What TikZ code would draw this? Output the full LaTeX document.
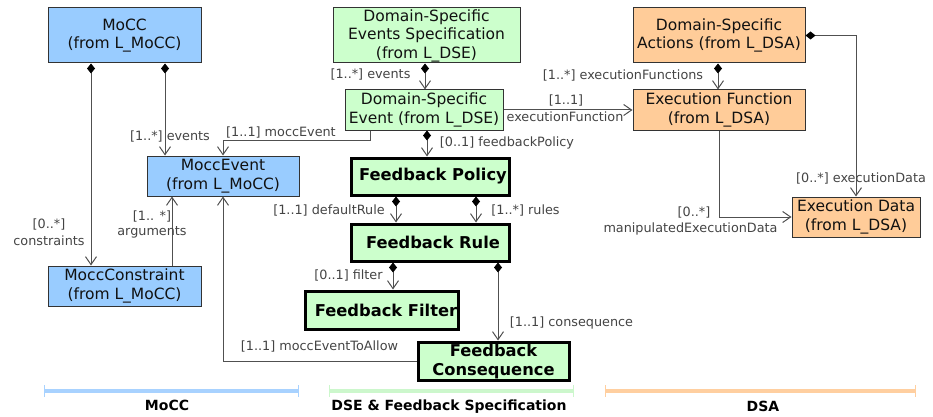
\documentclass[tikz,border=0pt]{standalone}
\usepackage{fontspec}
\setmainfont{DejaVu Sans}
\usetikzlibrary{arrows.meta}

\definecolor{moccblue}{HTML}{99CCFF}
\definecolor{dsegreen}{HTML}{CCFFCC}
\definecolor{dsaorange}{HTML}{FFCC99}
\definecolor{barblue}{HTML}{A8D2FF}
\definecolor{bargreen}{HTML}{CCF7CC}
\definecolor{barorange}{HTML}{FFCFA0}
\definecolor{linegray}{HTML}{505050}
\definecolor{boxedge}{HTML}{333333}
\definecolor{textdark}{HTML}{111111}
\definecolor{labelgray}{HTML}{444444}

\newcommand{\boxfont}{\fontsize{15.5}{18.5}\selectfont}
\newcommand{\fbfont}{\fontsize{16.3}{19}\selectfont\bfseries}
\newcommand{\lblfont}{\fontsize{12.8}{15}\selectfont}
\newcommand{\areafont}{\fontsize{14}{16}\selectfont\bfseries}

\tikzset{
  conn/.style={draw=linegray, line width=1pt},
  comp/.style={conn, {Diamond[length=10pt,width=8pt,color=black,fill=black]}-{Straight Barb[length=8pt,width=11pt]}},
  assoc/.style={conn, -{Straight Barb[length=8pt,width=11pt]}},
  plainbox/.style={draw=boxedge, line width=1pt, text=textdark, align=center, font=\boxfont, inner sep=1pt},
  bluebox/.style={plainbox, fill=moccblue},
  greenbox/.style={plainbox, fill=dsegreen},
  orangebox/.style={plainbox, fill=dsaorange},
  fbbox/.style={draw=black, line width=3pt, fill=dsegreen, text=black, align=center, font=\fbfont, inner sep=1pt},
  lbl/.style={text=labelgray, font=\lblfont, inner sep=0pt, align=center},
  area/.style={text=black, font=\areafont, inner sep=0pt},
  bar/.style={line width=4pt},
  tick/.style={line width=1pt},
}

\begin{document}
\begin{tikzpicture}[x=1pt,y=-1pt]
\useasboundingbox (0,0) rectangle (933,417);

% MoCC classes
\node[bluebox, minimum width=153pt, minimum height=55pt] (mocc) at (124.5,35.5) {MoCC\\(from L\_MoCC)};
\node[bluebox, minimum width=152pt, minimum height=40pt] (mev) at (223,176) {MoccEvent\\(from L\_MoCC)};
\node[bluebox, minimum width=153pt, minimum height=40pt] (mcon) at (124.5,286) {MoccConstraint\\(from L\_MoCC)};

% DSE and feedback classes
\node[greenbox, minimum width=187pt, minimum height=55pt] (dses) at (426.5,35.5) {Domain-Specific\\Events Specification\\(from L\_DSE)};
\node[greenbox, minimum width=158pt, minimum height=40pt] (dsev) at (424,110) {Domain-Specific\\Event (from L\_DSE)};
\node[fbbox, minimum width=158pt, minimum height=37pt] (fpol) at (430,176.5) {\hspace*{6pt}Feedback Policy};
\node[fbbox, minimum width=158pt, minimum height=37pt] (frule) at (430,242.5) {\hspace*{6pt}Feedback Rule};
\node[fbbox, minimum width=152pt, minimum height=38pt] (ffil) at (382,310) {\hspace*{8pt}Feedback Filter};
\node[fbbox, minimum width=151pt, minimum height=38pt] (fcon) at (493.5,361) {Feedback\\Consequence};

% DSA classes
\node[orangebox, minimum width=172pt, minimum height=55pt] (dsa) at (719,35.5) {Domain-Specific\\Actions (from L\_DSA)};
\node[orangebox, minimum width=172pt, minimum height=40pt] (exf) at (719,110) {Execution Function\\(from L\_DSA)};
\node[orangebox, minimum width=128pt, minimum height=40pt] (exd) at (856,217) {Execution Data\\(from L\_DSA)};

% MoCC relations
\draw[comp] ([xshift=-33.5]mocc.south) -- ([xshift=-33.5]mcon.north);
\draw[comp] ([xshift=40.5]mocc.south) -- ([xshift=-58]mev.north);
\draw[assoc] ([xshift=47.5]mcon.north) -- ([xshift=-51]mev.south);
\node[lbl] (l-constraints) at (49,232) {[0..*]\\[2pt]constraints};
\node[lbl] (l-events1) at (170,136) {[1..*] events};
\node[lbl] (l-args) at (152,224.5) {[1.. *]\\arguments};

% DSE relations
\draw[comp] ([xshift=-1.5]dses.south) -- ([xshift=1]dsev.north);
\draw[assoc] ([xshift=-54]dsev.south) -- ++(0,10) -| (mev.north);
\draw[assoc] (dsev.east) -- (exf.west);
\draw[comp] ([xshift=3]dsev.south) -- ([xshift=-3]fpol.north);
\draw[comp] ([xshift=-34]fpol.south) -- ([xshift=-34]frule.north);
\draw[comp] ([xshift=46]fpol.south) -- ([xshift=46]frule.north);
\draw[comp] ([xshift=-37]frule.south) -- ([xshift=11]ffil.north);
\draw[comp] ([xshift=68]frule.south) -- ([xshift=4.5]fcon.north);
\draw[assoc] (fcon.west) -| (mev.south);
\node[lbl] (l-events2) at (370.5,74) {[1..*] events};
\node[lbl] (l-moccev) at (281,132) {[1..1] moccEvent};
\node[lbl] (l-exf1) at (566,100) {[1..1]};
\node[lbl] (l-exf2) at (565,117) {executionFunction};
\node[lbl] (l-policy) at (507,143) {[0..1] feedbackPolicy};
\node[lbl] (l-default) at (329,210) {[1..1] defaultRule};
\node[lbl] (l-rules) at (525.5,210) {[1..*] rules};
\node[lbl] (l-filter) at (348.5,275) {[0..1] filter};
\node[lbl] (l-conseq) at (571.5,323) {[1..1] consequence};
\node[lbl] (l-allow) at (319.5,346) {[1..1] moccEventToAllow};

% DSA relations
\draw[comp] ([xshift=-1]dsa.south) -- ([xshift=-1]exf.north);
\draw[comp] (dsa.east) -| (exd.north);
\draw[assoc] (exf.south) |- (exd.west);
\node[lbl] (l-exfs) at (623,75) {[1..*] executionFunctions};
\node[lbl] (l-exdata) at (861,178) {[0..*] executionData};
\node[lbl] (l-manip1) at (694,212) {[0..*]};
\node[lbl] (l-manip2) at (690.5,229) {manipulatedExecutionData};

% language areas
\draw[bar, barblue] (44,391) -- (298,391);
\draw[tick, barblue] (44,385) -- (44,397) (298,385) -- (298,397);
\draw[bar, bargreen] (329,391) -- (573,391);
\draw[tick, bargreen] (329,385) -- (329,397) (573,385) -- (573,397);
\draw[bar, barorange] (605,391) -- (915,391);
\draw[tick, barorange] (605,385) -- (605,397) (915,385) -- (915,397);
\node[area] (a-mocc) at (167,405) {MoCC};
\node[area] (a-dse) at (449,407) {DSE \& Feedback Specification};
\node[area] (a-dsa) at (763,406) {DSA};
\end{tikzpicture}
\end{document}
